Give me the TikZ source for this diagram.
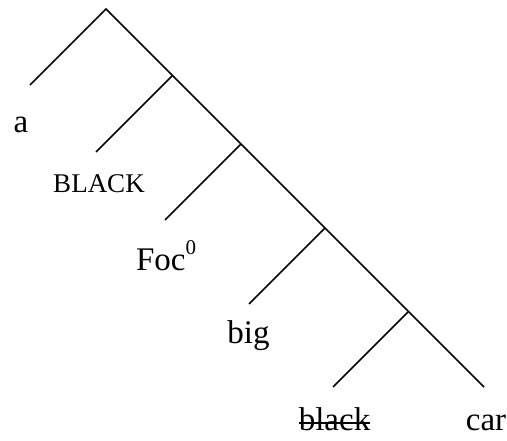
\documentclass[tikz,border=0pt]{standalone}
\usepackage{fontspec}
\setmainfont{Liberation Serif}
\begin{document}
\begin{tikzpicture}[x=1bp,y=-1bp,
  branch/.style={line width=1.6bp},
  lbl/.style={inner sep=0pt,anchor=base,font=\fontsize{33bp}{40bp}\selectfont},
  smalllbl/.style={inner sep=0pt,anchor=base,font=\fontsize{27bp}{32bp}\selectfont}]
\useasboundingbox (0,0) rectangle (507,441);
% tree points
\coordinate (top) at (106,9);
\coordinate (n1) at (172.5,75.5);
\coordinate (n2) at (241,144);
\coordinate (n3) at (325,228);
\coordinate (n4) at (408.5,311.5);
\coordinate (lA) at (30,85);
\coordinate (l1) at (96,152);
\coordinate (l2) at (165,220);
\coordinate (l3) at (249,304);
\coordinate (l4) at (333,387);
\coordinate (lR) at (484,387);
% lines
\draw[branch] (lA) -- (top) -- (n1) -- (n2) -- (n3) -- (n4) -- (lR);
\draw[branch] (n1) -- (l1);
\draw[branch] (n2) -- (l2);
\draw[branch] (n3) -- (l3);
\draw[branch] (n4) -- (l4);
% labels
\node[lbl] (ta) at (21,133) {a};
\node[smalllbl] (tBLACK) at (99,193) {BLACK};
\node[lbl] (tfoc) at (166,270) {Foc\raisebox{16bp}{\fontsize{21bp}{21bp}\selectfont 0}};
\node[lbl] (tbig) at (248.5,343) {big};
\node[lbl] (tblack) at (334.5,430) {black};
\node[lbl] (tcar) at (486,430) {car};
\draw[line width=1.4bp] ([yshift=7bp]tblack.base west) -- ([yshift=7bp]tblack.base east);
\end{tikzpicture}
\end{document}
